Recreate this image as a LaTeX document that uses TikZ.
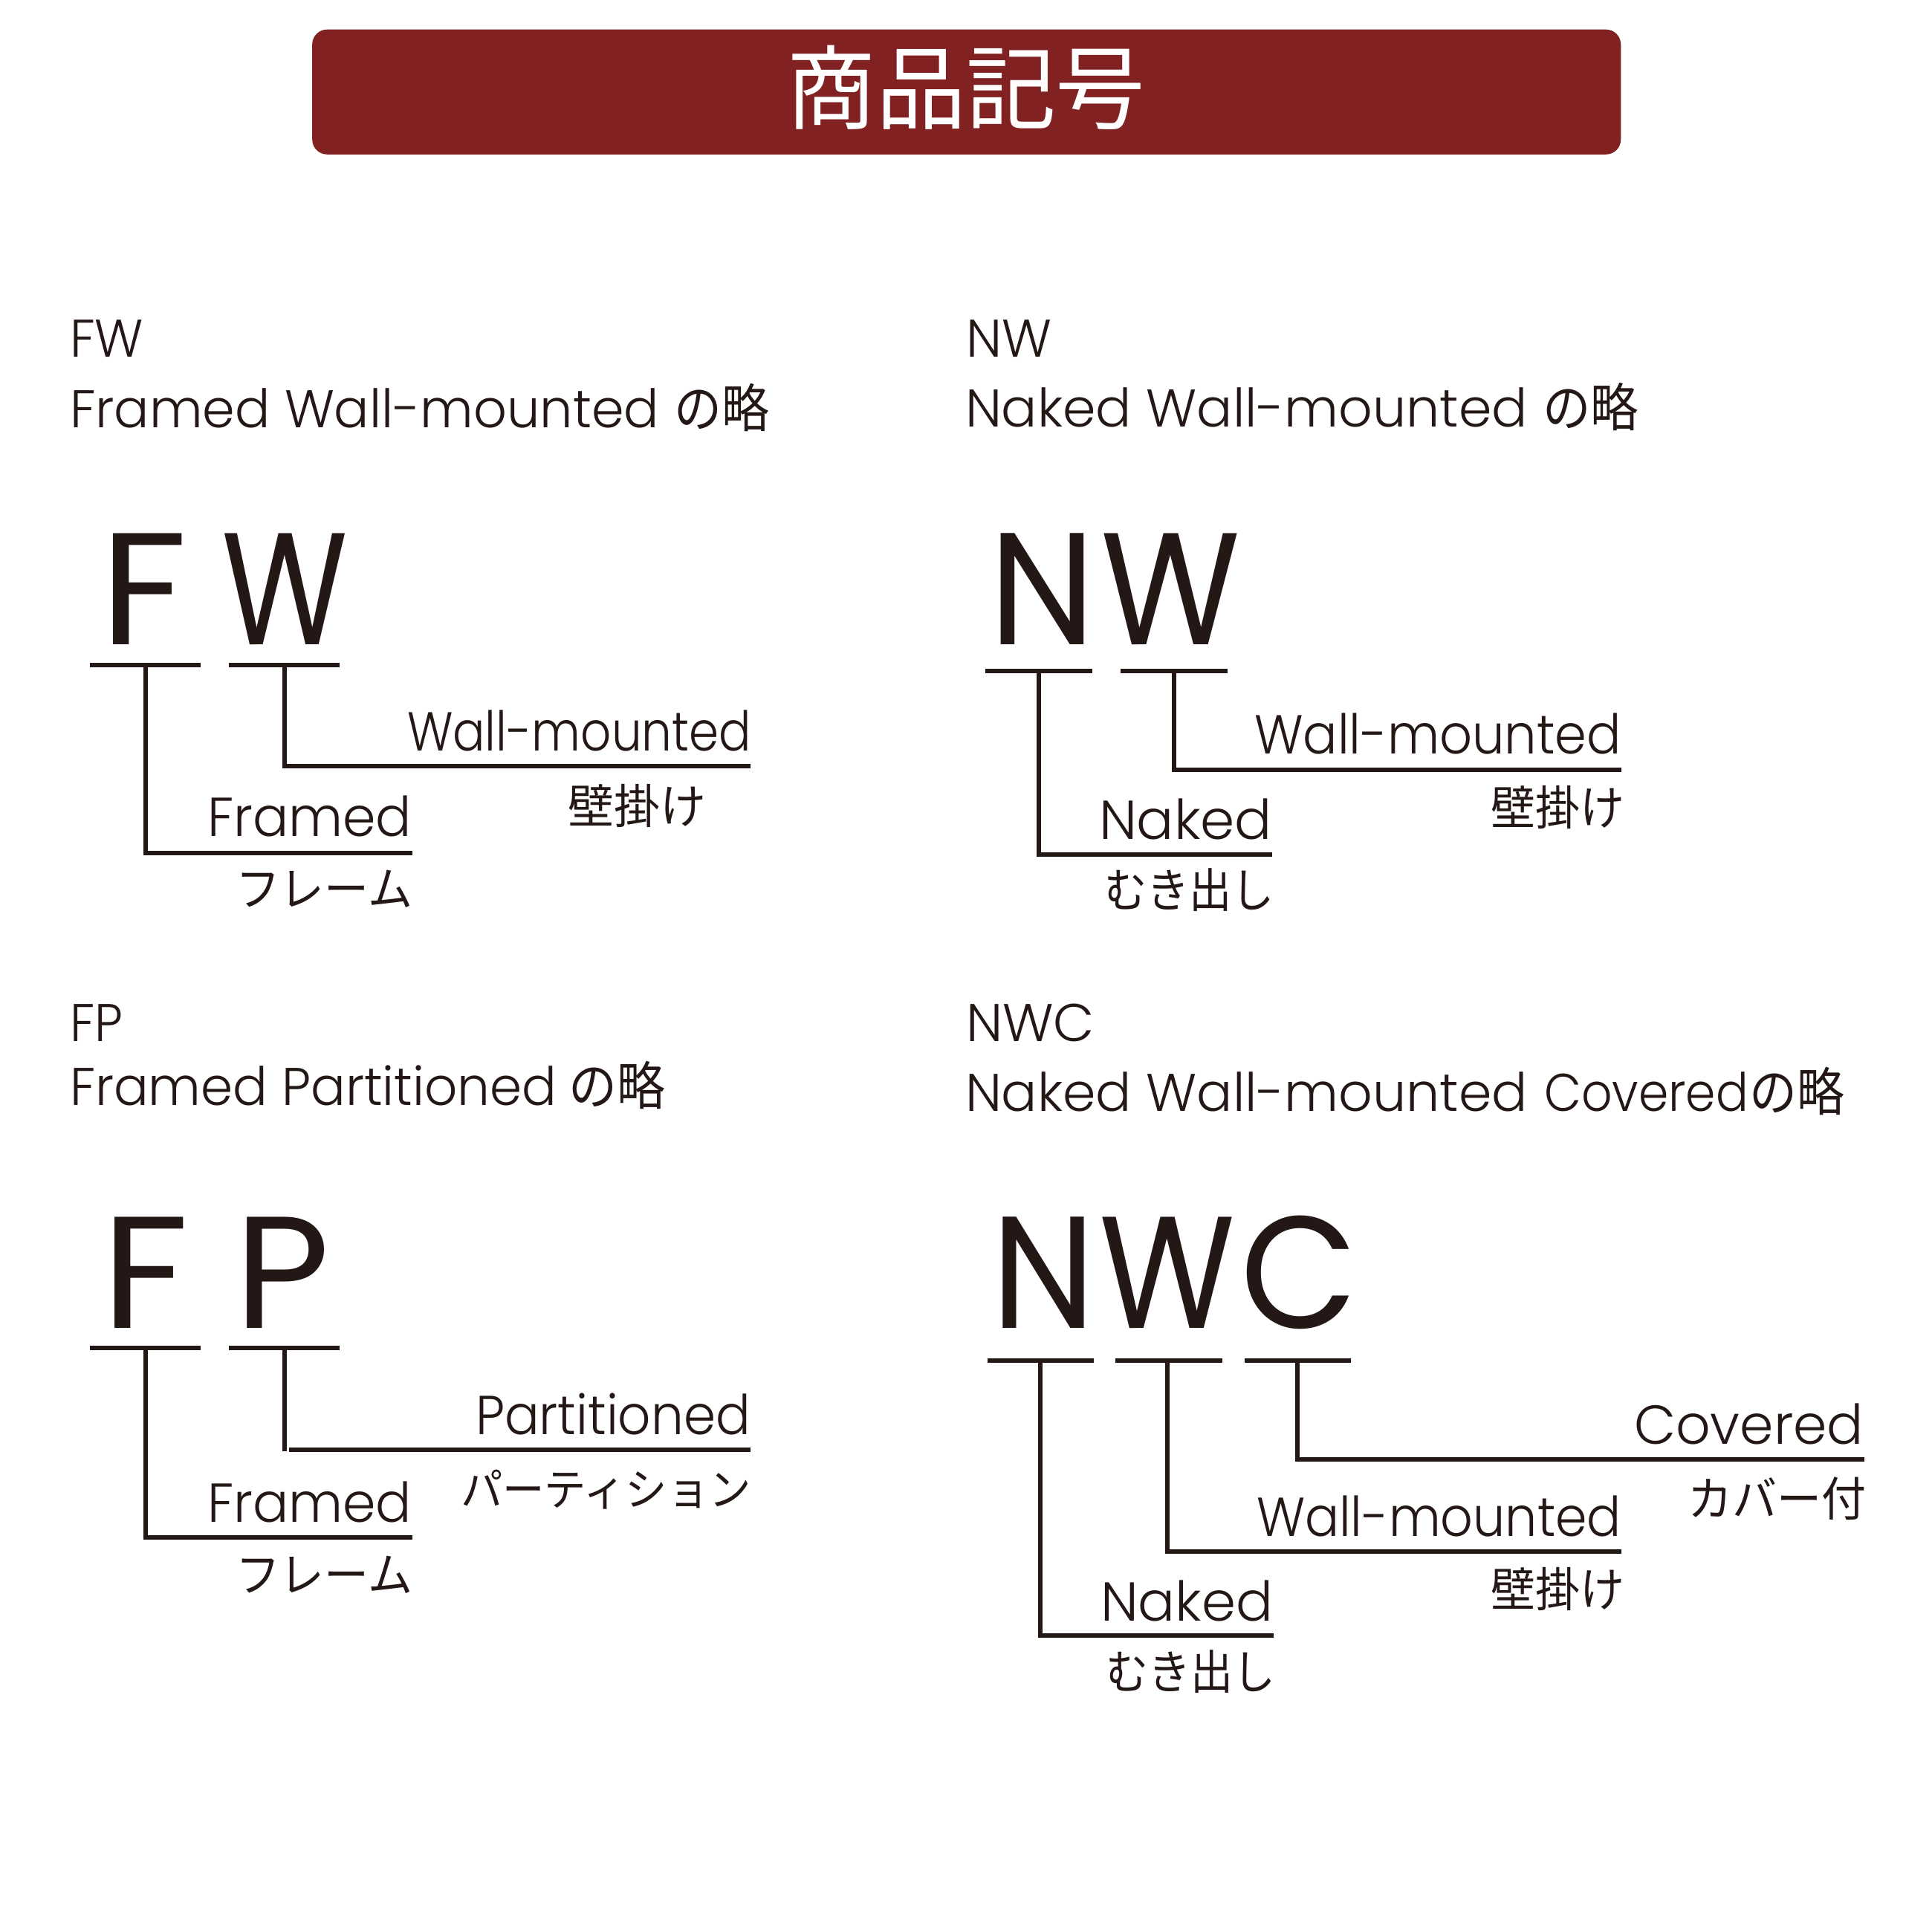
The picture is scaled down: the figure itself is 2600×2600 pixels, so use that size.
\documentclass[tikz,border=0pt]{standalone}
\usepackage{graphicx}
\usepackage{fontspec}
\setmainfont{Poppins}
\newfontfamily\latL{Poppins Light}
\newfontfamily\latR{Poppins}
\newfontfamily\cjkL{Noto Sans CJK JP}
\definecolor{ink}{HTML}{231815}
\definecolor{barred}{HTML}{822122}
\newlength\upx \setlength\upx{0.01cm}
% w: width in px, t: text
\newcommand\fitw[2]{\resizebox{#1\upx}{\height}{#2}}
\newcommand\hdfont{\latL\fontsize{20.3pt}{24pt}\selectfont}
\newcommand\lblfont{\latL\fontsize{21pt}{25pt}\selectfont}
\newcommand\bigfont{\latR\fontsize{61pt}{70pt}\selectfont}
\newcommand\jpfont[1]{\cjkL\fontsize{#1pt}{#1pt}\selectfont}
\newcommand\ryaku[1]{\fitw{#1}{\jpfont{20}の略}}
\newcommand\abbr[4]{\fitw{#1}{\hdfont #2}\makebox[#3\upx]{\ }\ryaku{#4}}
\tikzset{
  txt/.style={inner sep=0pt,outer sep=0pt,anchor=base west,text=ink},
  rule/.style={draw=ink,line width=0.055cm,line cap=butt,line join=miter},
}
% tee: barL barR barY stemX endY endX
\newcommand\tee[6]{%
  \coordinate (ba) at (#1,#3); \coordinate (bb) at (#2,#3);
  \coordinate (st) at (#4,#3); \coordinate (en) at (#6,#5);
  \draw[rule] (ba) -- (bb);
  \draw[rule] (st) |- (en);
}
\begin{document}
\begin{tikzpicture}[x=0.01cm,y=-0.01cm]
\useasboundingbox (0,0) rectangle (2600,2600);
\fill[white] (0,0) rectangle (2600,2600);
% title
\node[fill=barred,rounded corners=0.2cm,inner sep=0pt,minimum width=17.6cm,minimum height=1.68cm,anchor=north west] (bar) at (419.5,39) {};
\node[inner sep=0pt,text=white,anchor=base west] (title) at (1058,164) {\fitw{483}{\jpfont{35}商品記号}};

% FW
\node[txt] (h1a) at (94,480) {\fitw{99}{\hdfont FW}};
\node[txt] (h1b) at (94,575) {\abbr{793}{Framed Wall-mounted}{20}{128}};
\node[txt] (b1a) at (134,867) {\fitw{118}{\bigfont F}};
\node[txt] (b1b) at (298,867) {\fitw{170}{\bigfont W}};
\tee{121}{270}{895}{196}{1148}{555}
\tee{308}{457}{895}{383}{1031}{1010}
\node[txt] (l1a) at (548,1010) {\fitw{463}{\lblfont Wall-mounted}};
\node[txt] (j1a) at (764,1108) {\fitw{186}{\jpfont{18}壁掛け}};
\node[txt] (l1b) at (279,1125) {\fitw{275}{\lblfont Framed}};
\node[txt] (j1b) at (317,1219) {\fitw{238}{\jpfont{18}フレーム}};

% NW
\node[txt] (h2a) at (1300,480) {\fitw{115}{\hdfont NW}};
\node[txt] (h2b) at (1299,574) {\abbr{757}{Naked Wall-mounted}{20}{129}};
\node[txt] (b2a) at (1331,867) {\fitw{143}{\bigfont N}};
\node[txt] (b2b) at (1481,867) {\fitw{188}{\bigfont W}};
\tee{1326}{1470}{903}{1398}{1150}{1712}
\tee{1508}{1652}{903}{1580}{1036}{2182}
\node[txt] (l2a) at (1688,1014) {\fitw{494}{\lblfont Wall-mounted}};
\node[txt] (j2a) at (2006,1110) {\fitw{180}{\jpfont{18}壁掛け}};
\node[txt] (l2b) at (1479,1129) {\fitw{233}{\lblfont Naked}};
\node[txt] (j2b) at (1486,1221) {\fitw{229}{\jpfont{18}むき出し}};

% FP
\node[txt] (h3a) at (94,1401) {\fitw{71}{\hdfont FP}};
\node[txt] (h3b) at (94,1487) {\abbr{655}{Framed Partitioned}{16}{130}};
\node[txt] (b3a) at (136,1787) {\fitw{118}{\bigfont F}};
\node[txt] (b3b) at (315,1787) {\fitw{129}{\bigfont P}};
\tee{121}{270}{1814}{196}{2069}{555}
\coordinate (pa) at (308,1814); \coordinate (pb) at (457,1814);
\coordinate (ps) at (383,1814); \coordinate (pt) at (383,1953);
\coordinate (pc) at (389,1951); \coordinate (pd) at (1010,1951);
\draw[rule] (pa) -- (pb);
\draw[rule] (ps) -- (pt);
\draw[rule] (pc) -- (pd);
\node[txt] (l3a) at (640,1930) {\fitw{370}{\lblfont Partitioned}};
\node[txt] (j3a) at (620,2026) {\fitw{391}{\jpfont{17}パーティション}};
\node[txt] (l3b) at (279,2048) {\fitw{275}{\lblfont Framed}};
\node[txt] (j3b) at (317,2142) {\fitw{238}{\jpfont{18}フレーム}};

% NWC
\node[txt] (h4a) at (1300,1401) {\fitw{173}{\hdfont NWC}};
\node[txt] (h4b) at (1299,1495) {\fitw{757}{\hdfont Naked Wall-mounted}\makebox[22\upx]{\ }\fitw{275}{\hdfont Covered}\makebox[1\upx]{}\ryaku{128}};
\node[txt] (b4a) at (1334,1787) {\fitw{140}{\bigfont N}};
\node[txt] (b4b) at (1479,1787) {\fitw{183}{\bigfont W}};
\node[txt] (b4c) at (1669,1787) {\fitw{158}{\bigfont C}};
\tee{1329}{1472}{1831}{1400}{2201}{1714}
\tee{1501}{1645}{1831}{1571}{2088}{2182}
\tee{1675}{1818}{1831}{1746}{1964}{2509}
\node[txt] (l4a) at (2199,1943) {\fitw{309}{\lblfont Covered}};
\node[txt] (j4a) at (2271,2040) {\fitw{240}{\jpfont{18}カバー付}};
\node[txt] (l4b) at (1691,2067) {\fitw{491}{\lblfont Wall-mounted}};
\node[txt] (j4b) at (2006,2162) {\fitw{180}{\jpfont{18}壁掛け}};
\node[txt] (l4c) at (1481,2181) {\fitw{232}{\lblfont Naked}};
\node[txt] (j4c) at (1488,2273) {\fitw{228}{\jpfont{18}むき出し}};
\end{tikzpicture}
\end{document}
